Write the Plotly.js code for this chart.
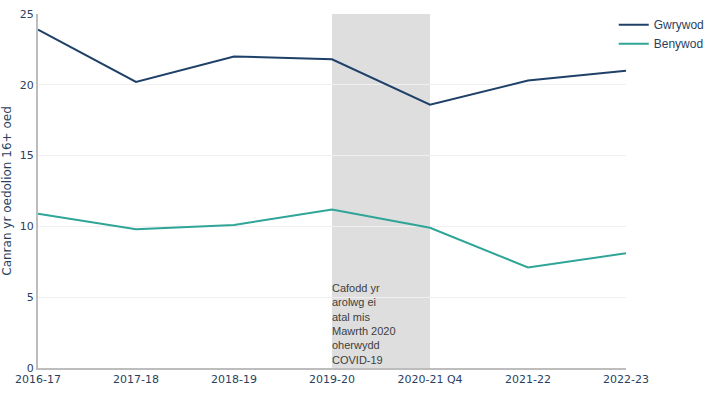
<!DOCTYPE html>
<html>
<head>
<meta charset="utf-8">
<script src="https://cdn.plot.ly/plotly-3.0.1.min.js"></script>
<style>html,body{margin:0;padding:0;background:#fff;}#chart{width:712px;height:406px;}</style>
</head>
<body>
<div id="chart"></div>
<script>
const years = ["2016-17","2017-18","2018-19","2019-20","2020-21 Q4","2021-22","2022-23"];
const gwrywod = [23.9, 20.2, 22.0, 21.8, 18.6, 20.3, 21.0];
const benywod = [10.9, 9.8, 10.1, 11.2, 9.9, 7.1, 8.1];
const seriesNames = ["Gwrywod", "Benywod"];
const gapStart = "2019-20";
const gapEnd = "2020-21 Q4";
const noteText = "Cafodd yr<br>arolwg ei<br>atal mis<br>Mawrth 2020<br>oherwydd<br>COVID-19";

const data = [
  {x: years, y: gwrywod, name: seriesNames[0], type: "scatter", mode: "lines",
   line: {color: "#1f4068", width: 2}},
  {x: years, y: benywod, name: seriesNames[1], type: "scatter", mode: "lines",
   line: {color: "#2ea597", width: 2}}
];

const layout = {
  width: 712, height: 406,
  margin: {l: 38, r: 86, t: 14, b: 38, autoexpand: false},
  paper_bgcolor: "#fff", plot_bgcolor: "#fff",
  font: {family: "DejaVu Sans, Verdana, sans-serif", size: 11, color: "#2a3f5f"},
  xaxis: {type: "category", showgrid: false, showline: true, linecolor: "#bdbdbd", linewidth: 2,
          ticks: "", zeroline: false, tickfont: {size: 11, color: "#2a3f5f"}},
  yaxis: {range: [0, 25], dtick: 5, showgrid: true, gridcolor: "#f0f0f0", showline: true,
          linecolor: "#bdbdbd", linewidth: 2, zeroline: false, ticks: "",
          tickfont: {size: 11, color: "#2a3f5f"},
          title: {text: "Canran yr oedolion 16+ oed", font: {size: 12, color: "#2a3f5f"}, standoff: 8}},
  legend: {xref: "container", yref: "container", x: 0.862, y: 0.975, xanchor: "left", yanchor: "top",
           itemwidth: 30, tracegroupgap: 0,
           font: {family: "Liberation Sans, Arial, sans-serif", size: 12, color: "#2a3f5f"},
           bgcolor: "rgba(0,0,0,0)"},
  shapes: [{type: "rect", xref: "x", yref: "paper", x0: gapStart, x1: gapEnd, y0: 0, y1: 1,
            fillcolor: "#dedede", line: {width: 0}, layer: "below"}],
  annotations: [{x: gapStart, y: 0, xref: "x", yref: "paper", xanchor: "left", yanchor: "bottom",
                 text: noteText, showarrow: false, align: "left", xshift: -2,
                 font: {family: "Liberation Sans, Arial, sans-serif", size: 11, color: "#404040"}}],
  showlegend: true
};

Plotly.newPlot("chart", data, layout, {displayModeBar: false, staticPlot: true});
</script>
</body>
</html>
